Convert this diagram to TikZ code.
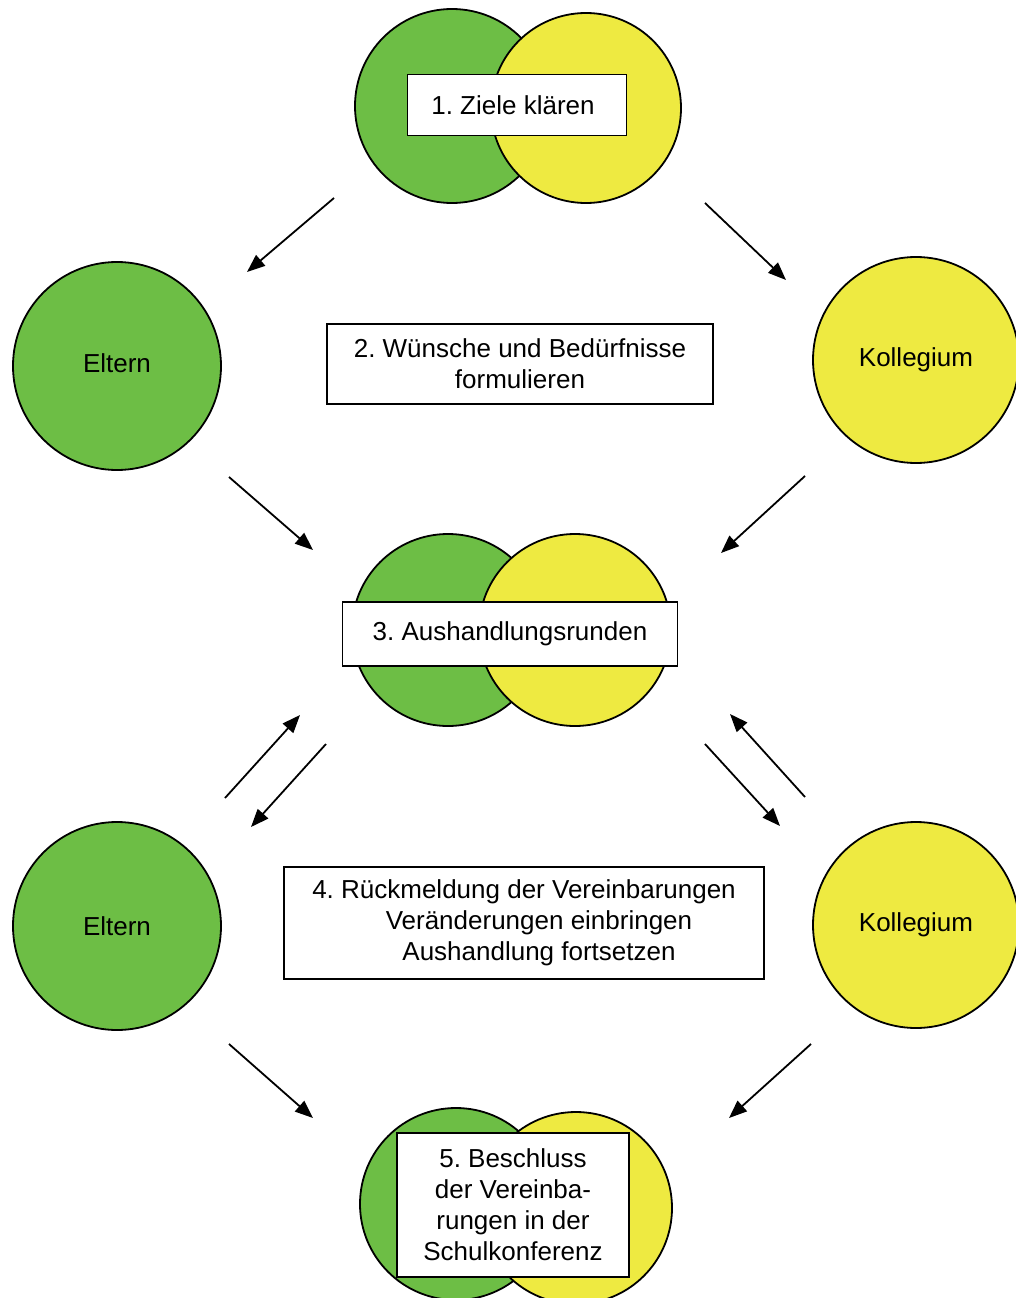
\documentclass[tikz,border=0pt]{standalone}
\usepackage{fontspec}
\setmainfont{Liberation Sans}
\frenchspacing
\usetikzlibrary{arrows.meta}
\definecolor{grn}{RGB}{109,190,69}
\definecolor{gelb}{RGB}{238,234,65}
\tikzset{
	kreis/.style={circle,draw=black,line width=1.8pt,inner sep=0pt},
	textbox/.style={draw=black,line width=1.5pt,fill=white,align=center,inner sep=0pt},
	pfeil/.style={-{Triangle[length=18pt,width=14pt]},line width=1.8pt},
}
\begin{document}
\begin{tikzpicture}[x=1pt,y=-1pt,font=\fontsize{26}{31}\selectfont]
	\useasboundingbox (0,0) rectangle (1016,1298);
	% 1. Ziele klaeren
	\node[kreis,fill=grn,minimum size=194pt] (g1) at (452,106) {};
	\node[kreis,fill=gelb,minimum size=190pt] (y1) at (586,108) {};
	\node[textbox,minimum width=219pt,minimum height=61pt] (b1) at (517,105) {1. Ziele klären\hspace*{8pt}};
	% Eltern und Kollegium oben
	\node[kreis,fill=grn,minimum size=208pt] (e1) at (117,366) {\raisebox{5pt}{Eltern}};
	\node[kreis,fill=gelb,minimum size=206pt] (k1) at (916,360) {Kollegium};
	\node[textbox,minimum width=386pt,minimum height=80pt] (b2) at (520,364) {2. Wünsche und Bedürfnisse\\formulieren};
	% 3. Aushandlungsrunden
	\node[kreis,fill=grn,minimum size=192pt] (g3) at (448,630) {};
	\node[kreis,fill=gelb,minimum size=192pt] (y3) at (575,630) {};
	\node[textbox,minimum width=335pt,minimum height=64pt] (b3) at (510,634) {3. Aushandlungsrunden};
	% Eltern und Kollegium unten
	\node[kreis,fill=grn,minimum size=208pt] (e2) at (117,926) {Eltern};
	\node[kreis,fill=gelb,minimum size=206pt] (k2) at (916,925) {\raisebox{5pt}{Kollegium}};
	\node[textbox,minimum width=480pt,minimum height=112pt] (b4) at (524,923) {4. Rückmeldung der Vereinbarungen\\\hspace*{30pt}Veränderungen einbringen\\\hspace*{30pt}Aushandlung fortsetzen};
	% 5. Beschluss
	\node[kreis,fill=grn,minimum size=192pt] (g5) at (456,1204) {};
	\node[kreis,fill=gelb,minimum size=192pt] (y5) at (576,1208) {};
	\node[textbox,minimum width=232pt,minimum height=144pt] (b5) at (513,1205) {5. Beschluss\\der Vereinba-\\rungen in der\\Schulkonferenz};
	% Pfeile
	\coordinate (p1a) at (334,198); \coordinate (p1b) at (247,272);
	\coordinate (p2a) at (705,203); \coordinate (p2b) at (786,280);
	\coordinate (p3a) at (229,477); \coordinate (p3b) at (313,550);
	\coordinate (p4a) at (805,476); \coordinate (p4b) at (721,553);
	\coordinate (p5a) at (225,798); \coordinate (p5b) at (300,715);
	\coordinate (p6a) at (326,744); \coordinate (p6b) at (251,827);
	\coordinate (p7a) at (705,744); \coordinate (p7b) at (780,826);
	\coordinate (p8a) at (805,797); \coordinate (p8b) at (730,714);
	\coordinate (p9a) at (229,1044); \coordinate (p9b) at (313,1118);
	\coordinate (p10a) at (811,1044); \coordinate (p10b) at (729,1118);
	\foreach \i in {1,...,10}
		\draw[pfeil] (p\i a) -- (p\i b);
\end{tikzpicture}
\end{document}
